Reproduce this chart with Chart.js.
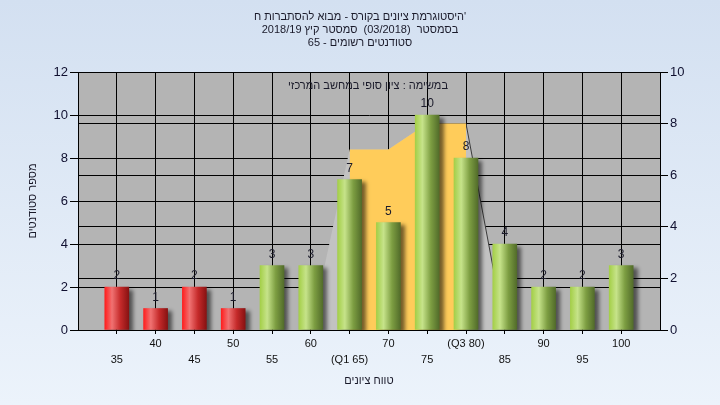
<!DOCTYPE html>
<html><head><meta charset="utf-8">
<script src="https://cdn.jsdelivr.net/npm/chart.js@4/dist/chart.umd.min.js"></script>
<style>html,body{margin:0;padding:0;background:#e4edf8;}#wrap{width:720px;height:405px;}</style>
</head><body><div id="wrap"><canvas id="c" width="720" height="405"></canvas></div>
<script>
// ---- data ----
const grades = [35, 40, 45, 50, 55, 60, 65, 70, 75, 80, 85, 90, 95, 100];
const counts = [2, 1, 2, 1, 3, 3, 7, 5, 10, 8, 4, 2, 2, 3];
const passGrade = 55;
const xTickLabels = ['35', '40', '45', '50', '55', '60', '(Q1 65)', '70', '75', '(Q3 80)', '85', '90', '95', '100'];
const iqrGrades = [65, 70, 75, 80];
const iqrValues = [7, 7, 8, 8];
const spanGrades = [60, 65, 70, 75, 80, 85];
const spanValues = [0, 7, 7, 8, 8, 0];
const leftTicks = [0, 2, 4, 6, 8, 10, 12];
const rightTicks = [0, 2, 4, 6, 8, 10];
const titleLines = [
  "היסטוגרמת ציונים בקורס - מבוא להסתברות ח'",
  "בסמסטר  (03/2018)  סמסטר קיץ 2018/19",
  "סטודנטים רשומים - 65"
];
const innerTitle = "במשימה : ציון סופי במחשב המרכזי";
const yTitle = "מספר סטודנטים";
const xTitle = "טווח ציונים";

const FONT = "'Liberation Sans', 'DejaVu Sans', Arial, sans-serif";

const barData = grades.map((g, i) => ({x: g, y: counts[i]}));
const iqrData = iqrGrades.map((g, i) => ({x: g, y: iqrValues[i]}));
const spanData = spanGrades.map((g, i) => ({x: g, y: spanValues[i]}));

const bgPlugin = {
  id: 'bg',
  beforeDraw(chart) {
    const {ctx, chartArea: a, width, height} = chart;
    ctx.save();
    const g = ctx.createLinearGradient(0, 0, 0, height);
    g.addColorStop(0, '#d3e0f1');
    g.addColorStop(1, '#ecf3fb');
    ctx.fillStyle = g;
    ctx.fillRect(0, 0, width, height);
    ctx.fillStyle = '#b4b4b4';
    ctx.fillRect(a.left, a.top, a.right - a.left, a.bottom - a.top);
    ctx.restore();
  }
};

const shadowPlugin = {
  id: 'barShadow',
  beforeDatasetDraw(chart, args) {
    if (args.index !== 0) return;
    const ctx = chart.ctx;
    ctx.save();
    ctx.shadowColor = 'rgba(0,0,0,0.55)';
    ctx.shadowOffsetX = 4;
    ctx.shadowOffsetY = 3;
    ctx.shadowBlur = 4;
  },
  afterDatasetDraw(chart, args) {
    if (args.index !== 0) return;
    chart.ctx.restore();
  }
};

const labelPlugin = {
  id: 'valueLabels',
  afterDatasetsDraw(chart) {
    const ctx = chart.ctx;
    const meta = chart.getDatasetMeta(0);
    ctx.save();
    ctx.font = '12px ' + FONT;
    ctx.fillStyle = '#1a1a2a';
    ctx.textAlign = 'center';
    ctx.textBaseline = 'alphabetic';
    meta.data.forEach((el, i) => {
      ctx.fillText(String(counts[i]), el.x, el.y - 8);
    });
    ctx.restore();
  },
  afterDraw(chart) {
    const ctx = chart.ctx;
    ctx.save();
    ctx.font = '11px ' + FONT;
    ctx.fillStyle = '#1a1a2a';
    ctx.textAlign = 'center';
    ctx.textBaseline = 'middle';
    ctx.fillText(innerTitle, 368, 86);
    ctx.restore();
  }
};

function barColor(c) {
  const pass = c.raw && c.raw.x >= passGrade;
  const chart = c.chart;
  const xs = chart.scales && chart.scales.x;
  if (c.type !== 'data' || !xs || !chart.chartArea) return pass ? '#9ec850' : '#e82828';
  const px = xs.getPixelForValue(c.raw.x);
  const g = chart.ctx.createLinearGradient(px - 12, 0, px + 12, 0);
  if (pass) {
    g.addColorStop(0, '#a4cf48');
    g.addColorStop(0.3, '#c6e38a');
    g.addColorStop(0.65, '#7d9e42');
    g.addColorStop(1, '#526c2a');
  } else {
    g.addColorStop(0, '#ff1e1e');
    g.addColorStop(0.3, '#f07272');
    g.addColorStop(0.65, '#c52a2a');
    g.addColorStop(1, '#881212');
  }
  return g;
}

new Chart(document.getElementById('c'), {
  type: 'bar',
  data: {
    datasets: [
      {
        type: 'bar', data: barData, yAxisID: 'y', order: 0,
        backgroundColor: barColor, borderWidth: 0, barThickness: 24
      },
      {
        type: 'line', data: iqrData, yAxisID: 'y1', order: 1,
        fill: 'origin', backgroundColor: '#ffcc5a', borderWidth: 0, borderColor: 'transparent',
        pointRadius: 0, tension: 0
      },
      {
        type: 'line', data: spanData, yAxisID: 'y1', order: 2,
        fill: 'origin', backgroundColor: '#c2c2c2', borderWidth: 1,
        segment: { borderColor: s => (s.p0.parsed.x === 80 ? '#3a3a3a' : 'rgba(0,0,0,0)') },
        pointRadius: 0, tension: 0
      }
    ]
  },
  options: {
    responsive: false,
    animation: false,
    devicePixelRatio: 1,
    layout: { padding: 0 },
    plugins: {
      legend: { display: false },
      tooltip: { enabled: false },
      title: {
        display: true,
        text: titleLines,
        color: '#1a1a2a',
        font: { family: FONT, size: 11, lineHeight: '13px', weight: 'normal' },
        padding: { top: 10, bottom: 23 }
      }
    },
    scales: {
      x: {
        type: 'linear', min: 30, max: 105, offset: false,
        afterFit: s => { s.height = 75; },
        afterBuildTicks: s => { s.ticks = [30].concat(grades, [105]).map(v => ({value: v})); },
        grid: {
          color: '#000', lineWidth: 1, offset: false, tickLength: 4,
          tickColor: c => (c.tick && (c.tick.value === 30 || c.tick.value === 105) ? 'rgba(0,0,0,0)' : '#000')
        },
        border: { color: '#000' },
        ticks: {
          autoSkip: false, maxRotation: 0, padding: 2, color: '#111',
          font: { family: FONT, size: 11, lineHeight: '16px' },
          callback: (v) => {
            const i = grades.indexOf(v);
            if (i < 0) return '';
            return i % 2 === 0 ? ['', xTickLabels[i]] : [xTickLabels[i]];
          }
        },
        title: {
          display: true, text: xTitle, color: '#1a1a2a',
          font: { family: FONT, size: 11, lineHeight: '13px' },
          padding: { top: 0, bottom: 18 }
        }
      },
      y: {
        position: 'left', min: 0, max: 12,
        afterFit: s => { s.width = 78; },
        afterBuildTicks: s => { s.ticks = leftTicks.map(v => ({value: v})); },
        grid: { color: '#000', lineWidth: 1, tickLength: 8 },
        border: { color: '#000' },
        ticks: { padding: 2, color: '#101030', font: { family: FONT, size: 13 } },
        title: {
          display: true, text: yTitle, color: '#1a1a2a',
          font: { family: FONT, size: 11, lineHeight: '13px' },
          padding: { top: 26, bottom: 0 }
        }
      },
      y1: {
        position: 'right', min: 0, max: 10,
        afterFit: s => { s.width = 60; },
        afterBuildTicks: s => { s.ticks = rightTicks.map(v => ({value: v})); },
        grid: { color: '#000', lineWidth: 1, tickLength: 8 },
        border: { color: '#000' },
        ticks: { padding: 2, color: '#101030', font: { family: FONT, size: 13 } }
      }
    }
  },
  plugins: [bgPlugin, shadowPlugin, labelPlugin]
});
</script>
</body></html>
